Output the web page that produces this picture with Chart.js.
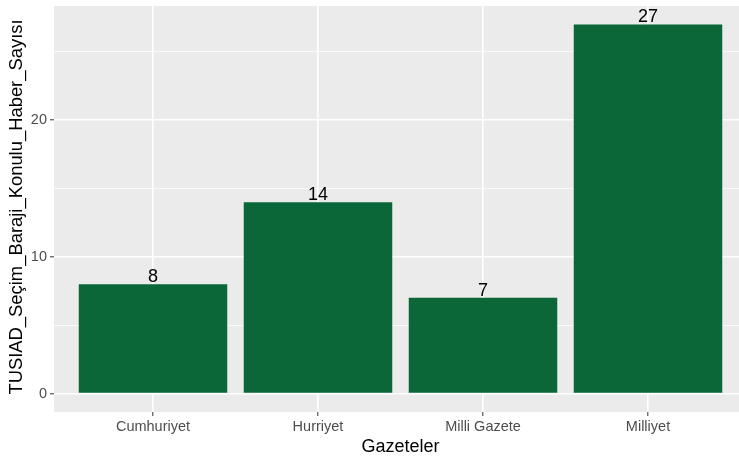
<!DOCTYPE html>
<html>
<head>
<meta charset="utf-8">
<script src="https://cdn.jsdelivr.net/npm/chart.js@4.4.1/dist/chart.umd.min.js"></script>
<style>
html,body{margin:0;padding:0;background:#fff;overflow:hidden;}
#wrap{width:760px;height:456px;position:relative;}
</style>
</head>
<body>
<div id="wrap"><canvas id="c" width="760" height="456"></canvas></div>
<script>
const categories = ["Cumhuriyet", "Hurriyet", "Milli Gazete", "Milliyet"];
const counts = [8, 14, 7, 27];
const yMajorTicks = [0, 10, 20];
const yMinorTicks = [5, 15, 25];
const xTitle = "Gazeteler";
const yTitle = "TUSIAD_Seçim_Baraji_Konulu_Haber_Sayısı";

const points = categories.map((c, i) => ({x: i + 1, y: counts[i]}));
const yMax = Math.max(...counts);
const yPad = yMax * 0.05;
const FONT = '"Liberation Sans", Arial, sans-serif';

const panelBg = {
  id: 'panelBg',
  beforeDraw(chart) {
    const {ctx, chartArea: a} = chart;
    ctx.save();
    ctx.fillStyle = '#EBEBEB';
    ctx.fillRect(a.left, a.top, a.right - a.left, a.bottom - a.top);
    ctx.restore();
  }
};

const barLabels = {
  id: 'barLabels',
  afterDatasetsDraw(chart) {
    const {ctx} = chart;
    const meta = chart.getDatasetMeta(0);
    ctx.save();
    ctx.fillStyle = '#000';
    ctx.font = '18px ' + FONT;
    ctx.textAlign = 'center';
    ctx.textBaseline = 'alphabetic';
    meta.data.forEach((bar, i) => {
      ctx.fillText(String(counts[i]), bar.x, bar.y - 2);
    });
    ctx.restore();
  }
};

const yTitlePlugin = {
  id: 'yTitlePlugin',
  afterDraw(chart) {
    const {ctx, chartArea: a} = chart;
    ctx.save();
    ctx.fillStyle = '#000';
    ctx.font = '18.4px ' + FONT;
    ctx.textAlign = 'center';
    ctx.textBaseline = 'alphabetic';
    ctx.translate(21.5, (a.top + a.bottom) / 2 - 2);
    ctx.rotate(-Math.PI / 2);
    ctx.fillText(yTitle, 0, 0);
    ctx.restore();
  }
};

new Chart(document.getElementById('c'), {
  type: 'bar',
  data: {
    datasets: [{
      data: points,
      backgroundColor: '#0B6737',
      borderWidth: 0,
      barPercentage: 0.9,
      categoryPercentage: 1.0
    }]
  },
  options: {
    responsive: false,
    animation: false,
    events: [],
    layout: {padding: {top: 6, right: 13, left: 0, bottom: 0}},
    plugins: {legend: {display: false}, tooltip: {enabled: false}},
    scales: {
      x: {
        type: 'linear',
        min: 0.4,
        max: 4.6,
        offset: false,
        afterBuildTicks(scale) { scale.ticks = categories.map((c, i) => ({value: i + 1})); },
        afterFit(scale) { scale.height = 44; scale.paddingLeft = 0; scale.paddingRight = 0; },
        border: {display: false},
        grid: {
          offset: false,
          color: '#FFFFFF',
          lineWidth: 1.6,
          drawTicks: true,
          tickLength: 4,
          tickColor: '#333333',
          tickWidth: 1
        },
        ticks: {
          color: '#4D4D4D',
          font: {family: FONT, size: 14.5},
          padding: 2,
          maxRotation: 0,
          autoSkip: false,
          callback: (v) => categories[Math.round(v) - 1]
        },
        title: {
          display: true,
          text: xTitle,
          color: '#000',
          font: {family: FONT, size: 18},
          padding: {top: 0, bottom: -2}
        }
      },
      y: {
        type: 'linear',
        min: -yPad,
        max: yMax + yPad,
        afterBuildTicks(scale) {
          scale.ticks = [...yMajorTicks, ...yMinorTicks].sort((a, b) => a - b).map(v => ({value: v}));
        },
        afterFit(scale) { scale.width = 54; scale.paddingTop = 0; scale.paddingBottom = 0; },
        border: {display: false},
        grid: {
          color: '#FFFFFF',
          lineWidth: (ctx) => (ctx.tick && yMajorTicks.includes(ctx.tick.value)) ? 1.6 : 0.8,
          drawTicks: true,
          tickLength: 4,
          tickColor: (ctx) => (ctx.tick && yMajorTicks.includes(ctx.tick.value)) ? '#333333' : 'rgba(0,0,0,0)',
          tickWidth: 1
        },
        ticks: {
          color: '#4D4D4D',
          font: {family: FONT, size: 14.5},
          padding: 3,
          callback: (v) => yMajorTicks.includes(v) ? String(v) : ''
        },
        title: {display: false}
      }
    }
  },
  plugins: [panelBg, barLabels, yTitlePlugin]
});
</script>
</body>
</html>
